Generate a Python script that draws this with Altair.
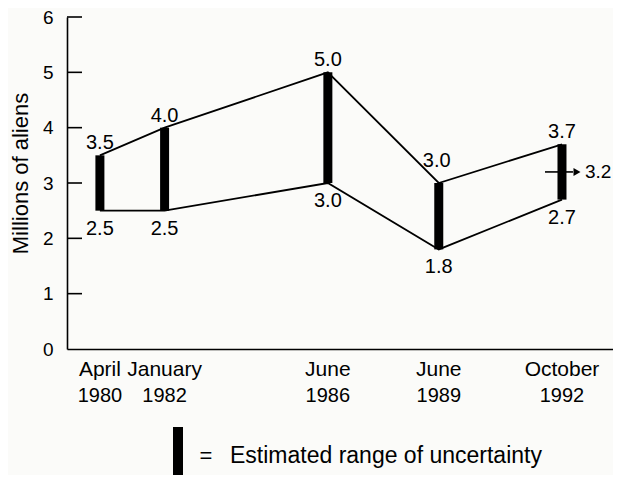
import altair as alt
import pandas as pd

# ---- data ----
months = ["April", "January", "June", "June", "October"]
month_num = [4, 1, 6, 6, 10]
years = [1980, 1982, 1986, 1989, 1992]
upper = [3.5, 4.0, 5.0, 3.0, 3.7]
lower = [2.5, 2.5, 3.0, 1.8, 2.7]
latest_estimate = [3.2]
y_ticks = [1, 2, 3, 4, 5, 6]
legend_text = ["Estimated range of uncertainty"]

FONT = "Liberation Sans"
W, H = 546, 332

df = pd.DataFrame({
    "month": months,
    "year": years,
    "t": [y + (m - 1) / 12 for y, m in zip(years, month_num)],
    "hi": upper,
    "lo": lower,
})
df["year_s"] = df["year"].astype(str)

xscale = alt.Scale(domain=[1979.36, 1994.13], zero=False, nice=False)
yscale = alt.Scale(domain=[0, 6], nice=False, zero=True)

base = alt.Chart(df)

x_enc = alt.X("t:Q", scale=xscale,
              axis=alt.Axis(labels=False, ticks=False, title=None, grid=False,
                            domain=True, domainColor="black", domainWidth=1.6))
y_axis = alt.Axis(values=[0, 1, 2, 3, 4, 5, 6], format="d", ticks=False,
                  grid=False, domain=True, domainColor="black", domainWidth=1.6,
                  labelFont=FONT, labelFontSize=19, labelColor="black",
                  labelPadding=14, title="Millions of aliens",
                  titleFont=FONT, titleFontSize=22, titleFontWeight="normal",
                  titleColor="black", titleX=-47, titleY=156,
                  titleAngle=270, titleBaseline="middle", titleAlign="center")

upper_line = base.mark_line(color="black", strokeWidth=1.8).encode(
    x=x_enc, y=alt.Y("hi:Q", scale=yscale, axis=y_axis))
lower_line = base.mark_line(color="black", strokeWidth=1.8).encode(
    x="t:Q", y="lo:Q")
bars = base.mark_rule(color="black", strokeWidth=9, strokeCap="butt").encode(
    x="t:Q", y="lo:Q", y2="hi:Q")

hi_lab = base.mark_text(font=FONT, fontSize=20, color="black",
                        baseline="alphabetic", dy=-6).encode(
    x="t:Q", y="hi:Q", text=alt.Text("hi:Q", format=".1f")
).transform_filter("datum.year != 1989")
hi_lab_dip = base.mark_text(font=FONT, fontSize=20, color="black",
                            baseline="alphabetic", dy=-16, dx=-2).encode(
    x="t:Q", y="hi:Q", text=alt.Text("hi:Q", format=".1f")
).transform_filter("datum.year == 1989")
lo_lab = base.mark_text(font=FONT, fontSize=20, color="black",
                        baseline="top", dy=8).encode(
    x="t:Q", y="lo:Q", text=alt.Text("lo:Q", format=".1f"))

month_lab = base.mark_text(font=FONT, fontSize=21, color="black",
                           baseline="alphabetic").encode(
    x="t:Q", y=alt.value(359), text="month:N")
year_lab = base.mark_text(font=FONT, fontSize=20, color="black",
                          baseline="alphabetic").encode(
    x="t:Q", y=alt.value(385), text="year_s:N")

tick_df = pd.DataFrame({"v": y_ticks})
ticks = alt.Chart(tick_df).mark_rule(color="black", strokeWidth=1.6).encode(
    y="v:Q", x=alt.value(0), x2=alt.value(15))

last = df.iloc[[-1]].copy()
last["est"] = latest_estimate
arrow_line = alt.Chart(last).mark_rule(color="black", strokeWidth=1.6,
                                       xOffset=-17, x2Offset=11).encode(
    x="t:Q", x2="t:Q", y="est:Q")
arrow_head = alt.Chart(last).mark_point(shape="triangle-right", filled=True,
                                        color="black", opacity=1, size=65,
                                        xOffset=15).encode(
    x="t:Q", y="est:Q")
arrow_lab = alt.Chart(last).mark_text(font=FONT, fontSize=19, color="black",
                                      align="left", baseline="middle",
                                      dx=23).encode(
    x="t:Q", y="est:Q", text=alt.Text("est:Q", format=".1f"))

leg_df = pd.DataFrame({"label": legend_text, "eq": ["="]})
leg_bar = alt.Chart(leg_df).mark_rule(color="black", strokeWidth=10,
                                      strokeCap="butt").encode(
    x=alt.value(111), y=alt.value(410), y2=alt.value(470))
leg_eq = alt.Chart(leg_df).mark_text(font=FONT, fontSize=22, color="black",
                                     align="center", baseline="alphabetic").encode(
    x=alt.value(139), y=alt.value(446), text="eq:N")
leg_txt = alt.Chart(leg_df).mark_text(font=FONT, fontSize=23, color="black",
                                      align="left", baseline="alphabetic").encode(
    x=alt.value(163), y=alt.value(446), text="label:N")

chart = alt.layer(
    upper_line, lower_line, bars, ticks, hi_lab, hi_lab_dip, lo_lab,
    month_lab, year_lab, arrow_line, arrow_head, arrow_lab,
    leg_bar, leg_eq, leg_txt
).properties(
    width=W, height=H,
    autosize=alt.AutoSizeParams(type="none"),
    padding={"left": 59, "top": 9, "right": 0, "bottom": 126},
    background="#fbfbf9",
).configure_view(stroke=None)

chart.save("out.html", embed_options={"renderer": "svg", "actions": False})
